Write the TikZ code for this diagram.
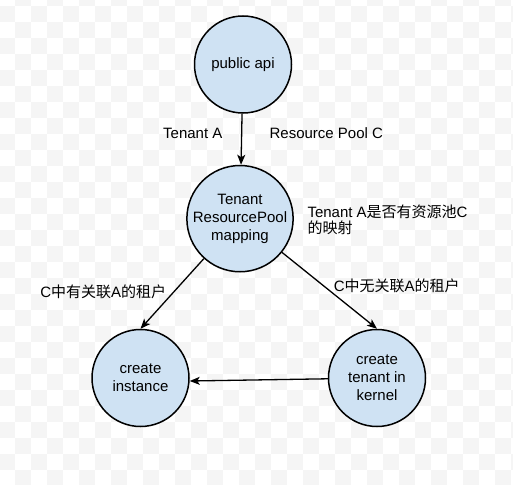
\documentclass[tikz,border=0pt]{standalone}
\usepackage{fontspec}
\setmainfont{Liberation Sans}
\newfontfamily\cjk{Noto Sans CJK SC}
\usetikzlibrary{arrows.meta,positioning}
\definecolor{poolblue}{RGB}{207,226,243}
\definecolor{checkgray}{RGB}{245,245,245}
\tikzset{
    proc/.style={draw, circle, line width=1.5pt, fill=poolblue, inner sep=0pt, minimum size=97pt, align=center, font=\fontsize{15}{18}\selectfont},
    flow/.style={-{Stealth[length=10pt, width=8pt, inset=2.5pt]}, line width=1.3pt},
    note/.style={font=\fontsize{15}{16}\selectfont, align=left, inner sep=0pt}
}
\begin{document}
\begin{tikzpicture}[x=1pt, y=-1pt]
    \useasboundingbox (0,0) rectangle (513,484);
    % background checks
    \foreach \c in {0,2,...,32}
        \foreach \r in {-2,0,...,30} {
            \fill[checkgray] (16*\c-1, 16*\r+6) rectangle ++(16,16);
            \fill[checkgray] (16*\c+15, 16*\r+22) rectangle ++(16,16);
        }
    \node[proc] (api) at (243,64.5) {public api};
    \node[proc, minimum size=104pt, below=51pt of api, xshift=-3pt] (mapping) {Tenant\\ResourcePool\\mapping};
    \node[proc] (instance) at (140.5,378) {create\\instance};
    \node[proc, right=138pt of instance] (kernel) {create\\tenant in\\kernel};
    \node[note] (tenantA) at (192.8,133.5) {Tenant A};
    \node[note] (poolC) at (326.3,133.5) {Resource Pool C};
    \node[note, anchor=west] (check) at (307.3,219.5) {Tenant A{\cjk 是否有资源池}C\\{\cjk 的映射}};
    \node[note] (linked) at (103.3,291.5) {C{\cjk 中有关联}A{\cjk 的租户}};
    \node[note] (unlinked) at (396.7,286) {C{\cjk 中无关联}A{\cjk 的租户}};
    \draw[flow] (api) -- (mapping);
    \draw[flow] (mapping) -- (instance.north);
    \draw[flow] (mapping) -- (kernel.north);
    \draw[flow] (kernel) -- ([yshift=-3pt]instance.east);
\end{tikzpicture}
\end{document}
